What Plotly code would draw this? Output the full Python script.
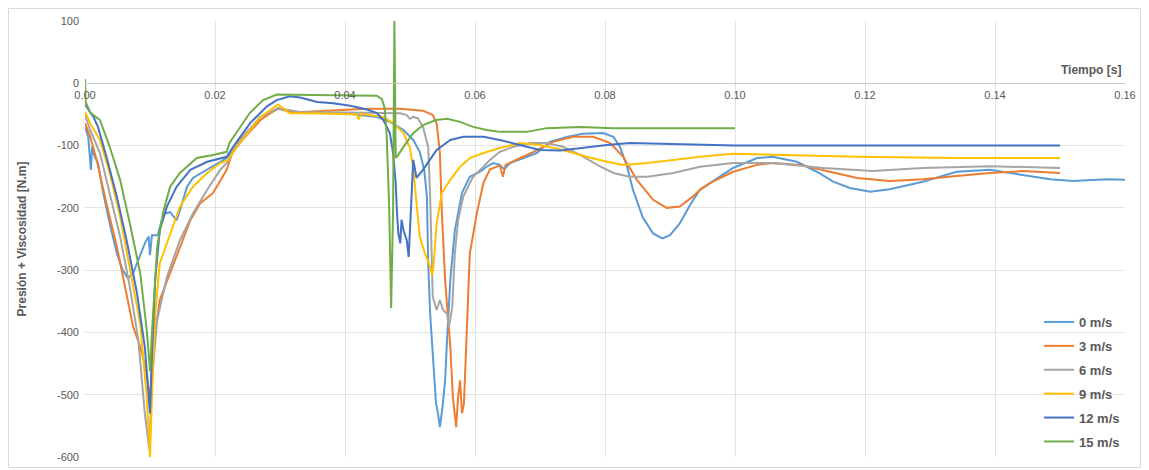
import plotly.graph_objects as go

# ---- data ----
series_names = ["0 m/s", "3 m/s", "6 m/s", "9 m/s", "12 m/s", "15 m/s"]
series_colors = ["#5B9BD5", "#ED7D31", "#A5A5A5", "#FFC000", "#4472C4", "#70AD47"]

t_0 = [0, 0.0005, 0.0009, 0.0011, 0.0015, 0.0020, 0.0028, 0.0038, 0.0049, 0.0058, 0.0066, 0.0074,
       0.0082, 0.0092, 0.0098, 0.0100, 0.0103, 0.0112, 0.0118, 0.0123, 0.0131, 0.0141, 0.0146, 0.0157,
       0.0166, 0.0188, 0.0218, 0.0234, 0.0270, 0.0297, 0.0331, 0.0400, 0.0449, 0.0469, 0.0490, 0.0505,
       0.0515, 0.0522, 0.0526, 0.0528, 0.0531, 0.0536, 0.0540, 0.0543, 0.0546, 0.0550, 0.0554, 0.0557,
       0.0562, 0.0569, 0.0580, 0.0592, 0.0608, 0.0618, 0.0628, 0.0638, 0.0645, 0.0654, 0.0674, 0.0695,
       0.0715, 0.0741, 0.0766, 0.0797, 0.0813, 0.0823, 0.0834, 0.0843, 0.0858, 0.0874, 0.0888, 0.0900,
       0.0915, 0.0931, 0.0946, 0.0962, 0.0997, 0.1034, 0.1058, 0.1095, 0.1126, 0.1151, 0.1177, 0.1208,
       0.1238, 0.1289, 0.1341, 0.1392, 0.1443, 0.1485, 0.1520, 0.1572, 0.1600]
v_0 = [-70, -86, -139, -102, -118, -128, -176, -225, -273, -300, -313, -305,
       -284, -257, -246, -276, -244, -244, -220, -209, -207, -220, -204, -166,
       -152, -139, -120, -102, -54, -41, -47, -48, -54, -62, -75, -91,
       -110, -140, -182, -289, -370, -450, -514, -530, -552, -520, -477, -412,
       -316, -236, -176, -150, -142, -134, -128, -131, -138, -128, -120, -112,
       -94, -86, -81, -80, -86, -102, -134, -171, -215, -241, -249, -244,
       -225, -195, -171, -160, -136, -120, -118, -126, -142, -158, -168, -174,
       -170, -158, -142, -139, -147, -154, -157, -154, -155]

t_3 = [0, 0.0008, 0.0018, 0.0033, 0.0049, 0.0064, 0.0074, 0.0085, 0.0095, 0.0100, 0.0105, 0.0115,
       0.0131, 0.0146, 0.0162, 0.0177, 0.0197, 0.0218, 0.0228, 0.0270, 0.0297, 0.0315, 0.0333, 0.0434,
       0.0485, 0.0520, 0.0535, 0.0541, 0.0544, 0.0546, 0.0549, 0.0554, 0.0562, 0.0566, 0.0571, 0.0574,
       0.0577, 0.0580, 0.0583, 0.0588, 0.0592, 0.0603, 0.0613, 0.0623, 0.0638, 0.0643, 0.0647, 0.0669,
       0.0690, 0.0720, 0.0751, 0.0782, 0.0808, 0.0828, 0.0849, 0.0874, 0.0895, 0.0915, 0.0935, 0.0946,
       0.0962, 0.0997, 0.1034, 0.1058, 0.1100, 0.1146, 0.1188, 0.1238, 0.1289, 0.1341, 0.1392, 0.1443,
       0.1500]
v_3 = [-64, -86, -123, -193, -262, -337, -391, -423, -466, -510, -423, -348,
       -305, -262, -220, -193, -176, -139, -107, -59, -40, -46, -46, -41,
       -41, -44, -51, -64, -91, -112, -208, -316, -423, -504, -552, -504,
       -477, -530, -514, -370, -273, -208, -160, -138, -132, -150, -131, -120,
       -110, -94, -86, -86, -96, -118, -155, -187, -200, -198, -182, -171,
       -160, -142, -131, -128, -131, -142, -152, -157, -154, -149, -144, -141,
       -144]

t_6 = [0, 0.0008, 0.0023, 0.0038, 0.0054, 0.0069, 0.0082, 0.0092, 0.0099, 0.0103, 0.0111, 0.0126,
       0.0146, 0.0166, 0.0188, 0.0208, 0.0220, 0.0238, 0.0270, 0.0297, 0.0331, 0.0400, 0.0459, 0.0485,
       0.0495, 0.0500, 0.0505, 0.0512, 0.0520, 0.0528, 0.0531, 0.0533, 0.0535, 0.0541, 0.0546, 0.0551,
       0.0557, 0.0560, 0.0565, 0.0569, 0.0574, 0.0582, 0.0597, 0.0613, 0.0623, 0.0638, 0.0659, 0.0685,
       0.0710, 0.0735, 0.0762, 0.0788, 0.0813, 0.0838, 0.0865, 0.0905, 0.0946, 0.0997, 0.1058, 0.1136,
       0.1212, 0.1289, 0.1392, 0.1500]
v_6 = [-51, -75, -112, -176, -246, -327, -412, -530, -588, -477, -380, -311,
       -252, -209, -171, -139, -126, -91, -54, -40, -46, -47, -48, -48,
       -51, -57, -54, -56, -70, -102, -182, -262, -343, -364, -348, -364,
       -370, -391, -359, -273, -220, -182, -150, -134, -123, -110, -102, -96,
       -96, -102, -115, -131, -144, -150, -150, -144, -134, -128, -128, -136,
       -141, -136, -133, -136]

t_9 = [0, 0.0008, 0.0023, 0.0038, 0.0054, 0.0069, 0.0085, 0.0095, 0.0100, 0.0103, 0.0108, 0.0115,
       0.0131, 0.0146, 0.0166, 0.0188, 0.0208, 0.0220, 0.0235, 0.0270, 0.0297, 0.0315, 0.0350, 0.0400,
       0.0418, 0.0421, 0.0425, 0.0459, 0.0474, 0.0490, 0.0500, 0.0505, 0.0510, 0.0515, 0.0523, 0.0531,
       0.0534, 0.0536, 0.0541, 0.0549, 0.0562, 0.0577, 0.0592, 0.0613, 0.0638, 0.0669, 0.0700, 0.0735,
       0.0772, 0.0803, 0.0828, 0.0865, 0.0905, 0.0946, 0.0997, 0.1059, 0.1188, 0.1341, 0.1500]
v_9 = [-46, -64, -91, -144, -214, -295, -386, -504, -600, -504, -370, -289,
       -241, -198, -166, -144, -128, -123, -100, -54, -34, -48, -48, -49,
       -50, -58, -49, -54, -64, -80, -104, -137, -198, -246, -273, -295,
       -308, -295, -225, -176, -155, -134, -120, -112, -104, -96, -99, -107,
       -118, -126, -131, -128, -123, -118, -113, -115, -118, -120, -120]

t_12 = [0, 0.0013, 0.0020, 0.0033, 0.0049, 0.0064, 0.0080, 0.0092, 0.0100, 0.0103, 0.0108, 0.0115,
        0.0126, 0.0141, 0.0162, 0.0188, 0.0218, 0.0228, 0.0254, 0.0280, 0.0295, 0.0315, 0.0331, 0.0357,
        0.0382, 0.0408, 0.0434, 0.0449, 0.0459, 0.0469, 0.0474, 0.0478, 0.0480, 0.0482, 0.0485, 0.0487,
        0.0490, 0.0495, 0.0498, 0.0500, 0.0503, 0.0505, 0.0507, 0.0510, 0.0520, 0.0541, 0.0562, 0.0582,
        0.0613, 0.0638, 0.0669, 0.0700, 0.0731, 0.0762, 0.0803, 0.0838, 0.0889, 0.0946, 0.1000, 0.1100,
        0.1200, 0.1300, 0.1400, 0.1500]
v_12 = [-34, -54, -70, -118, -182, -252, -337, -423, -530, -433, -316, -236,
        -198, -166, -139, -126, -118, -102, -64, -37, -27, -21, -23, -30,
        -32, -36, -42, -48, -59, -80, -112, -160, -208, -240, -257, -219,
        -236, -252, -279, -236, -150, -123, -134, -152, -139, -107, -91, -86,
        -86, -91, -99, -107, -108, -104, -99, -96, -97, -99, -100, -100,
        -100, -100, -100, -100]

t_15 = [0, 0.0001, 0.0008, 0.0023, 0.0038, 0.0054, 0.0069, 0.0085, 0.0095, 0.0100, 0.0103, 0.0111,
        0.0120, 0.0131, 0.0146, 0.0172, 0.0197, 0.0218, 0.0222, 0.0254, 0.0274, 0.0295, 0.0350, 0.0400,
        0.0449, 0.0457, 0.0461, 0.0464, 0.0468, 0.0471, 0.0474, 0.0476, 0.0478, 0.0482, 0.0490, 0.0505,
        0.0520, 0.0540, 0.0557, 0.0577, 0.0597, 0.0618, 0.0638, 0.0659, 0.0680, 0.0710, 0.0762, 0.0813,
        0.0865, 0.0946, 0.1000]
v_15 = [7, -30, -47, -59, -102, -155, -225, -305, -396, -462, -401, -263,
        -208, -166, -144, -120, -115, -110, -96, -47, -27, -18, -19, -19,
        -20, -26, -40, -80, -200, -361, -200, 100, -120, -115, -102, -80,
        -67, -59, -57, -62, -70, -75, -78, -78, -78, -72, -70, -72,
        -72, -72, -72]

t_series = [t_0, t_3, t_6, t_9, t_12, t_15]
v_series = [v_0, v_3, v_6, v_9, v_12, v_15]

x_tick_vals = [0, 0.02, 0.04, 0.06, 0.08, 0.10, 0.12, 0.14, 0.16]
y_tick_vals = [100, 0, -100, -200, -300, -400, -500, -600]
y_tick_text = ["100", "0", "-100", "-200", "-300", "-400", "-500", "-600"]

FONT = "Liberation Sans, Arial, sans-serif"
GRAY_TXT = "#595959"

W, H = 1133, 460
ML, MR, MT, MB = 77, 16, 13, 11
PW, PH = W - ML - MR, H - MT - MB

fig = go.Figure()
for name, col, tt, vv in zip(series_names, series_colors, t_series, v_series):
    fig.add_trace(go.Scatter(x=tt, y=vv, mode="lines", name=name, legendgroup=name,
                             line=dict(color=col, width=2)))

fig.update_layout(
    width=W, height=H,
    margin=dict(l=ML, r=MR, t=MT, b=MB, autoexpand=False),
    paper_bgcolor="white", plot_bgcolor="white",
    font=dict(family=FONT, color=GRAY_TXT),
    showlegend=True,
    legend=dict(x=1.0, xanchor="right", y=0.0, yanchor="bottom",
                bgcolor="rgba(255,255,255,0)", traceorder="grouped", tracegroupgap=4,
                font=dict(family=FONT, size=13, color=GRAY_TXT, weight="bold")),
    xaxis=dict(range=[0, 0.16], tickvals=x_tick_vals, tickformat=".2f",
               showgrid=True, gridcolor="#E3E3E3", gridwidth=1,
               zeroline=False, showline=True, linecolor="#C8C8C8", linewidth=1,
               anchor="free", position=600 / 700, ticks="", ticklabelstandoff=2,
               automargin=False,
               tickfont=dict(family=FONT, size=11, color=GRAY_TXT)),
    yaxis=dict(range=[-600, 100], tickvals=y_tick_vals, ticktext=y_tick_text,
               showgrid=True, gridcolor="#E3E3E3", gridwidth=1, zeroline=False,
               showline=False, ticks="", ticklabelstandoff=5, automargin=False,
               tickfont=dict(family=FONT, size=11, color=GRAY_TXT),
               title=dict(text="Presión + Viscosidad [N.m]", standoff=27,
                          font=dict(family=FONT, size=12, color=GRAY_TXT, weight="bold"))),
)

fig.add_annotation(text="Tiempo [s]", xref="paper", yref="y", x=1.0, y=0,
                   xanchor="right", yanchor="bottom", xshift=-2, yshift=4, showarrow=False,
                   font=dict(family=FONT, size=12, color=GRAY_TXT, weight="bold"))

fig.add_shape(type="rect", xref="paper", yref="paper",
              x0=-(ML - 0.5) / PW, x1=1 + (MR - 0.5) / PW,
              y0=-(MB - 0.5) / PH, y1=1 + (MT - 0.5) / PH,
              line=dict(color="#D9D9D9", width=1), fillcolor="rgba(0,0,0,0)", layer="below")

fig.write_html("out.html")
